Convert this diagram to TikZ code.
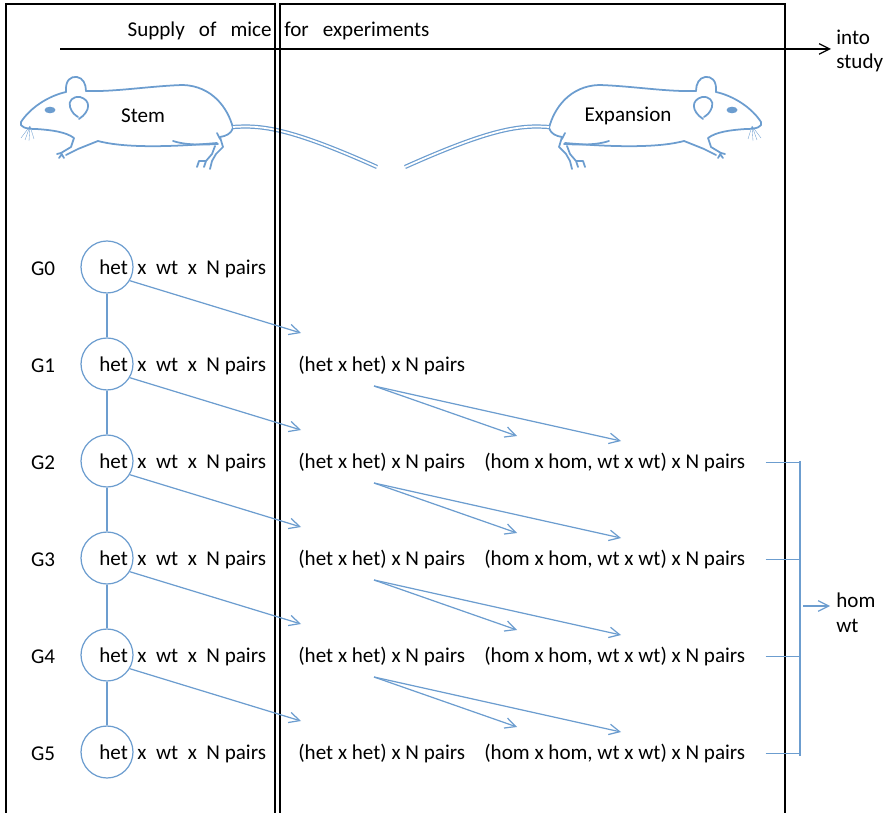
\documentclass[tikz,border=0pt]{standalone}
\usepackage{fontspec}
\setmainfont{Carlito}
\usetikzlibrary{arrows.meta, positioning}
\definecolor{mouseblue}{RGB}{108,157,207}

\begin{document}
\begin{tikzpicture}[x=0.02cm,y=-0.02cm,inner sep=0pt,
    font=\fontsize{12}{14}\selectfont,
    barb/.style={-{Straight Barb[length=6pt,width=6pt]}},
    link/.style={draw=mouseblue, line width=0.7pt},
    gen/.style={circle, draw=mouseblue, line width=0.7pt, minimum size=1.04cm},
    mouse/.style={draw=mouseblue, line width=1pt, line cap=round, line join=round},
    tail/.style={draw=mouseblue, double=white, line width=0.7pt, double distance=1pt}]
    \useasboundingbox (0,0) rectangle (888,813);

    % the two mice, the second one mirrored
    \foreach \sx/\dx in {1/0,-1/782}{
    \begin{scope}[shift={(\dx,0)},xscale=\sx]
        % back and ear
        \draw[mouse] (233,128) .. controls (228,108) and (212,86) .. (183,85)
            .. controls (150,86) and (115,92) .. (86,91);
        \draw[mouse] (66,92) .. controls (65,80) and (71,76) .. (77,77)
            .. controls (83,78) and (86,84) .. (86,91);
        \draw[mouse] (79,119) .. controls (91,111) and (91,100) .. (80,97)
            .. controls (73,96) and (68,101) .. (70,107) .. controls (72,113) and (75,115) .. (78,117);
        % head, chin, front leg
        \draw[mouse] (66,92) .. controls (48,96) and (30,108) .. (21,122)
            .. controls (19,127) and (26,129) .. (36,129)
            .. controls (52,130) and (66,132) .. (74,138) -- (71,147) -- (61,153);
        \draw[mouse] (57,154) -- (61,153) -- (64,158) (59,158) -- (62,154);
        \draw[mouse] (66,155) -- (78,149) -- (98,141)
            .. controls (120,147) and (160,148) .. (217,143);
        % hind leg
        \draw[mouse] (173,141) .. controls (185,145) and (200,145) .. (218,144);
        \draw[mouse] (233,128) .. controls (231,134) and (226,136) .. (220,137)
            -- (223,147) -- (216,154) -- (212,161) -- (210,169);
        \draw[mouse] (215,146) -- (212,154) -- (206,161) -- (199,161) -- (197,167)
            (206,161) -- (204,167);
        \draw[mouse] (217,133) -- (220,139);
        % eye and whiskers
        \fill[mouseblue] (50,110) ellipse [x radius=5.5, y radius=3.3];
        \draw[mouseblue, line width=0.2pt] (30,126) -- (21,138) (30,126) -- (25,140)
            (30,126) -- (29,141) (30,126) -- (34,139);
        % tail
        \draw[tail] (233,127) .. controls (262,125) and (290,128) .. (377,167);
    \end{scope}
    }
    \node (stem) at (143,116) {Stem};
    \node (expand) at (628,116) {Expansion};

    % frames
    \draw[line width=0.8pt] (6,813) |- (275,4) -- (275,813);
    \draw[line width=0.8pt] (280,813) |- (785,4) -- (785,813);
    \node[anchor=east] (supply) at (272,31) {Supply\hspace{8pt}of\hspace{8pt}mice};
    \node[anchor=west] (expt) at (284,31) {for\hspace{8pt}experiments};
    \coordinate (feed) at (60,49);
    \coordinate (out) at (831,49);
    \draw[barb, line width=0.7pt] (feed) -- (out);
    \node[anchor=west, align=left] (study) at (836,51) {into\\study};

    % generations
    \foreach \i/\y in {0/267,1/364,2/461,3/558,4/655,5/752}{
        \node (lab\i) at (43,\y+1.5) {G\i};
        \node[gen] (g\i) at (107,\y) {};
        \node[anchor=west] (pair\i) at (99,\y+1.5) {het\ \ x\ \ wt\ \ x\ \ N pairs};
    }
    \foreach \i/\y in {1/364,2/461,3/558,4/655,5/752}
        \node[anchor=west] (mid\i) at (298,\y+1.5) {(het x het) x N pairs};
    \foreach \i/\y in {2/461,3/558,4/655,5/752}
        \node[anchor=west] (hom\i) at (484,\y+1.5) {(hom x hom, wt x wt) x N pairs};

    % het line and the arrows into the next generation
    \foreach \i/\y in {0/267,1/364,2/461,3/558,4/655}{
        \pgfmathtruncatemacro\j{\i+1}
        \draw[link] (g\i) -- (g\j);
        \coordinate (in\i) at (301,\y+66);
        \draw[link,barb] (g\i.-31) -- (in\i);
    }
    \foreach \i/\y in {1/364,2/461,3/558,4/655}{
        \coordinate (fork\i) at (374,\y+22);
        \coordinate (hh\i) at (517,\y+72);
        \coordinate (ww\i) at (621,\y+77);
        \draw[link,barb] (fork\i) -- (hh\i);
        \draw[link,barb] (fork\i) -- (ww\i);
    }

    % bracket on the right
    \foreach \i in {2,...,5}
        \draw[link] ([xshift=0.4cm]hom\i.east) -- ++(33,0);
    \draw[link] (800,461) -- (800,756);
    \coordinate (brmid) at (803,606);
    \coordinate (toout) at (830,606);
    \draw[link,barb] (brmid) -- (toout);
    \node[anchor=west, align=left] (homwt) at (836,613) {hom\\wt};
\end{tikzpicture}
\end{document}
